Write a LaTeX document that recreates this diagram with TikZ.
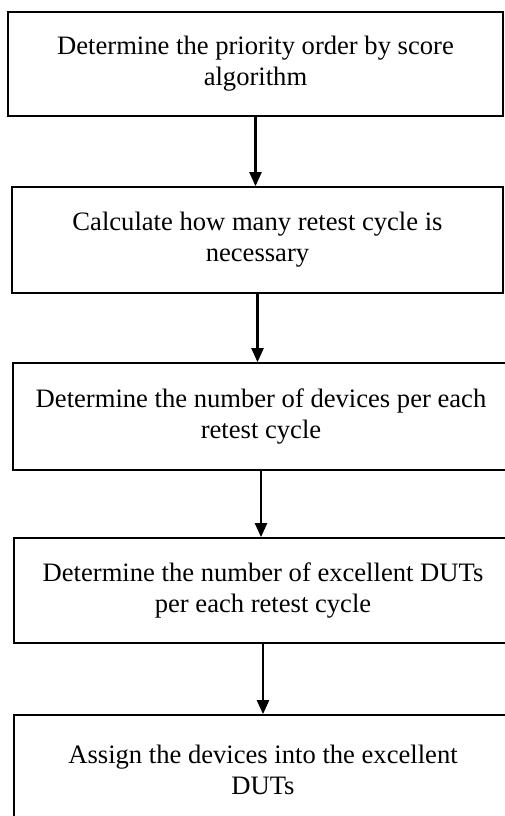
\documentclass[tikz,border=0pt]{standalone}
\usepackage{fontspec}
\setmainfont{Liberation Serif}
\usetikzlibrary{positioning, arrows.meta}

\tikzset{
  stepbox/.style={draw=black, line width=1.7pt, align=center, inner sep=0pt,
    font=\fontsize{26.6}{31}\selectfont},
  flowarrow/.style={draw=black, line width=2.3pt, -{Triangle[length=14pt,width=12pt]}}
}

\begin{document}
\begin{tikzpicture}[x=1pt, y=-1pt]
\clip (0,0) rectangle (505,816);
\fill[white] (0,0) rectangle (505,816);

\node[stepbox, minimum width=495pt, minimum height=104pt] (prio) at (255.5,64) {Determine the priority order by score\\algorithm};
\node[stepbox, minimum width=491pt, minimum height=106pt] (cycles) at (257.5,240) {Calculate how many retest cycle is\\necessary};
\node[stepbox, minimum width=496pt, minimum height=107pt] (devices) at (261,416.5) {Determine the number of devices per each\\retest cycle};
\node[stepbox, minimum width=498pt, minimum height=105pt] (duts) at (263,590.5) {Determine the number of excellent DUTs\\per each retest cycle};
\node[stepbox, minimum width=498pt, minimum height=110pt] (assign) at (263,770) {Assign the devices into the excellent\\DUTs};

\draw[flowarrow] (prio.south) -- (prio.south |- cycles.north);
\draw[flowarrow] (cycles.south) -- (cycles.south |- devices.north);
\draw[flowarrow] (devices.south) -- (devices.south |- duts.north);
\draw[flowarrow] (duts.south) -- (duts.south |- assign.north);
\end{tikzpicture}
\end{document}
